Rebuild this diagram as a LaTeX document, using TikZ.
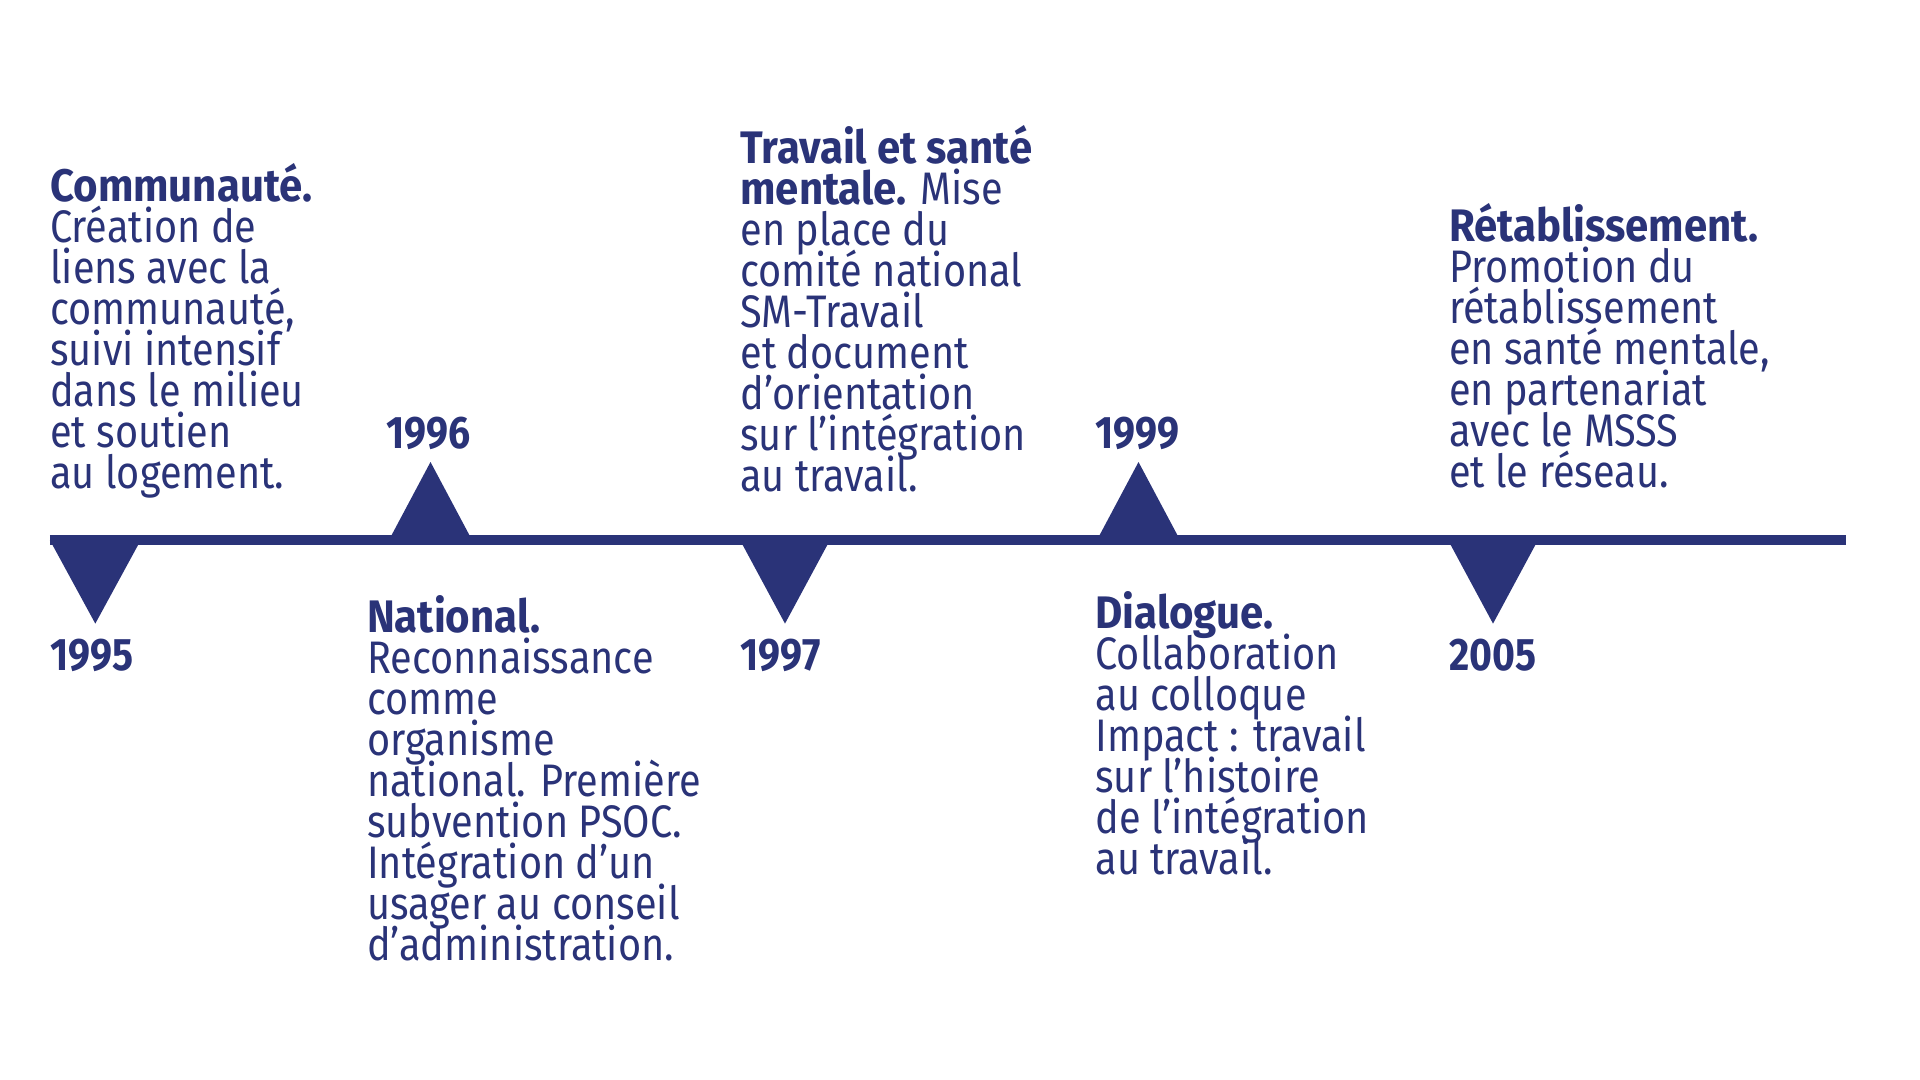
\documentclass[tikz,border=0pt]{standalone}
\usepackage{fontspec}
\setmainfont{Fira Sans}[FakeStretch=0.87, BoldFeatures={FakeStretch=0.92}]
\newfontfamily\yearfont{Fira Sans}[FakeStretch=0.86, BoldFeatures={FakeStretch=0.86}]
\definecolor{navy}{RGB}{42,51,120}
\tikzset{
  txt/.style={anchor=base west, inner sep=0pt, align=left, text=navy,
    font=\fontsize{22.8}{20.5}\selectfont},
  yearlbl/.style={anchor=base west, inner sep=0pt, text=navy,
    font=\yearfont\fontsize{22.8}{20.5}\selectfont\bfseries},
  tri/.style={fill=navy, draw=none},
  axis/.style={draw=navy, line width=5pt}
}
\begin{document}
\lineskiplimit=-100pt\relax
\lineskip=0pt\relax
\begin{tikzpicture}[x=0.5pt,y=-0.5pt]
\useasboundingbox (0,0) rectangle (1920,1080);
% timeline
\coordinate (start) at (49.8,540);
\coordinate (end) at (1846,540);
\draw[axis] (start) -- (end);
% down triangles
\fill[tri] (49.8,540) -- (140.8,540) -- (95.3,623.6) -- cycle;
\fill[tri] (740,540) -- (830,540) -- (785,623.6) -- cycle;
\fill[tri] (1448,540) -- (1538,540) -- (1493,623.6) -- cycle;
% up triangles
\fill[tri] (389,540) -- (472,540) -- (430.5,462) -- cycle;
\fill[tri] (1097,540) -- (1180,540) -- (1138.5,462) -- cycle;
% years
\node[yearlbl] (y1995) at (49.8,670) {1995};
\node[yearlbl] (y1996) at (385.7,448) {1996};
\node[yearlbl] (y1997) at (740,670) {1997};
\node[yearlbl] (y1999) at (1095,448) {1999};
\node[yearlbl] (y2005) at (1448.6,670) {2005};
% texts (anchor = baseline of the last line)
\node[txt] (communaute) at (49.8,488.6) {\textbf{Communauté.}\\Création de\\liens avec la\\communauté,\\suivi intensif\\dans le milieu\\et soutien\\au logement.};
\node[txt] (national) at (366.7,960) {\textbf{National.}\\Reconnaissance\\comme\\organisme\\national. Première\\subvention PSOC.\\Intégration d’un\\usager au conseil\\d’administration.};
\node[txt] (travail) at (740,491.4) {\textbf{Travail et santé}\\\textbf{mentale.} Mise\\en place du\\comité national\\SM-Travail\\et document\\d’orientation\\sur l’intégration\\au travail.};
\node[txt] (dialogue) at (1095,874.3) {\textbf{Dialogue.}\\Collaboration\\au colloque\\Impact : travail\\sur l’histoire\\de l’intégration\\au travail.};
\node[txt] (retab) at (1448.6,487.9) {\textbf{Rétablissement.}\\Promotion du\\rétablissement\\en santé mentale,\\en partenariat\\avec le MSSS\\et le réseau.};
\end{tikzpicture}
\end{document}
